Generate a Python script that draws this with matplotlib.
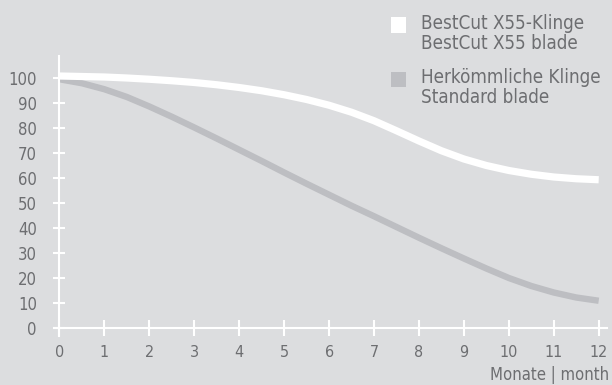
import matplotlib.pyplot as plt
from matplotlib.patches import Rectangle

# Daten (halbmonatlich)
monate = [0, 0.5, 1, 1.5, 2, 2.5, 3, 3.5, 4, 4.5, 5, 5.5, 6, 6.5, 7, 7.5, 8, 8.5, 9, 9.5, 10, 10.5, 11, 11.5, 12]
bestcut = [100.8, 100.6, 100.4, 100.0, 99.5, 98.9, 98.2, 97.3, 96.2, 94.9, 93.3, 91.4, 89.1,
           86.3, 82.9, 78.9, 74.8, 70.9, 67.6, 65.0, 63.0, 61.5, 60.4, 59.7, 59.3]
standard = [99.5, 97.9, 95.5, 92.4, 88.6, 84.5, 80.2, 75.8, 71.3, 66.8, 62.2, 57.7, 53.3,
            48.9, 44.7, 40.4, 36.1, 31.9, 27.8, 23.8, 20.0, 16.8, 14.2, 12.2, 10.9]
x_ticks = [0, 1, 2, 3, 4, 5, 6, 7, 8, 9, 10, 11, 12]
y_ticks = [0, 10, 20, 30, 40, 50, 60, 70, 80, 90, 100]
legende = ['BestCut X55-Klinge\nBestCut X55 blade', 'Herkömmliche Klinge\nStandard blade']

bg = '#dcdddf'
grau = '#bdbec2'
text_farbe = '#6d6e71'

plt.rcParams['font.family'] = ['DejaVu Sans']
plt.rcParams['font.stretch'] = 'condensed'

fig = plt.figure(figsize=(6.12, 3.85), dpi=100, facecolor=bg)
ax = fig.add_axes([54.1 / 612, 49 / 385, (606.8 - 54.1) / 612, (336 - 56) / 385])
ax.set_facecolor(bg)

ax.plot(monate, standard, color=grau, lw=4.6, solid_capstyle='butt', solid_joinstyle='round')
ax.plot(monate, bestcut, color='white', lw=5.2, solid_capstyle='butt', solid_joinstyle='round')

ax.set_xlim(-0.12, 12.18)
ax.set_ylim(-3.2, 108.8)

for s in ['top', 'right']:
    ax.spines[s].set_visible(False)
for s in ['left', 'bottom']:
    ax.spines[s].set_position(('data', 0))
    ax.spines[s].set_color('white')
    ax.spines[s].set_linewidth(1.5)

ax.set_xticks(x_ticks)
ax.set_yticks(y_ticks)
ax.tick_params(axis='x', direction='inout', length=11, width=1.5, color='white',
               labelcolor=text_farbe, labelsize=11.5, pad=7)
ax.tick_params(axis='y', direction='inout', length=8.6, width=1.5, color='white',
               labelcolor=text_farbe, labelsize=12, pad=12)

fig.text(609 / 612, 1 - 375 / 385, 'Monate | month', ha='right', va='center',
         color=text_farbe, fontsize=12)

# Legende
farben = ['white', grau]
y_pos = [25, 79]
for farbe, label, yp in zip(farben, legende, y_pos):
    fig.patches.append(Rectangle((391 / 612, 1 - (yp + 7.5) / 385), 15 / 612, 15 / 385,
                                 transform=fig.transFigure, color=farbe, lw=0))
    fig.text(421 / 612, 1 - (yp - 11) / 385, label, ha='left', va='top',
             color=text_farbe, fontsize=13.5, linespacing=1.05)

fig.savefig('out.png', dpi=100, facecolor=bg)
